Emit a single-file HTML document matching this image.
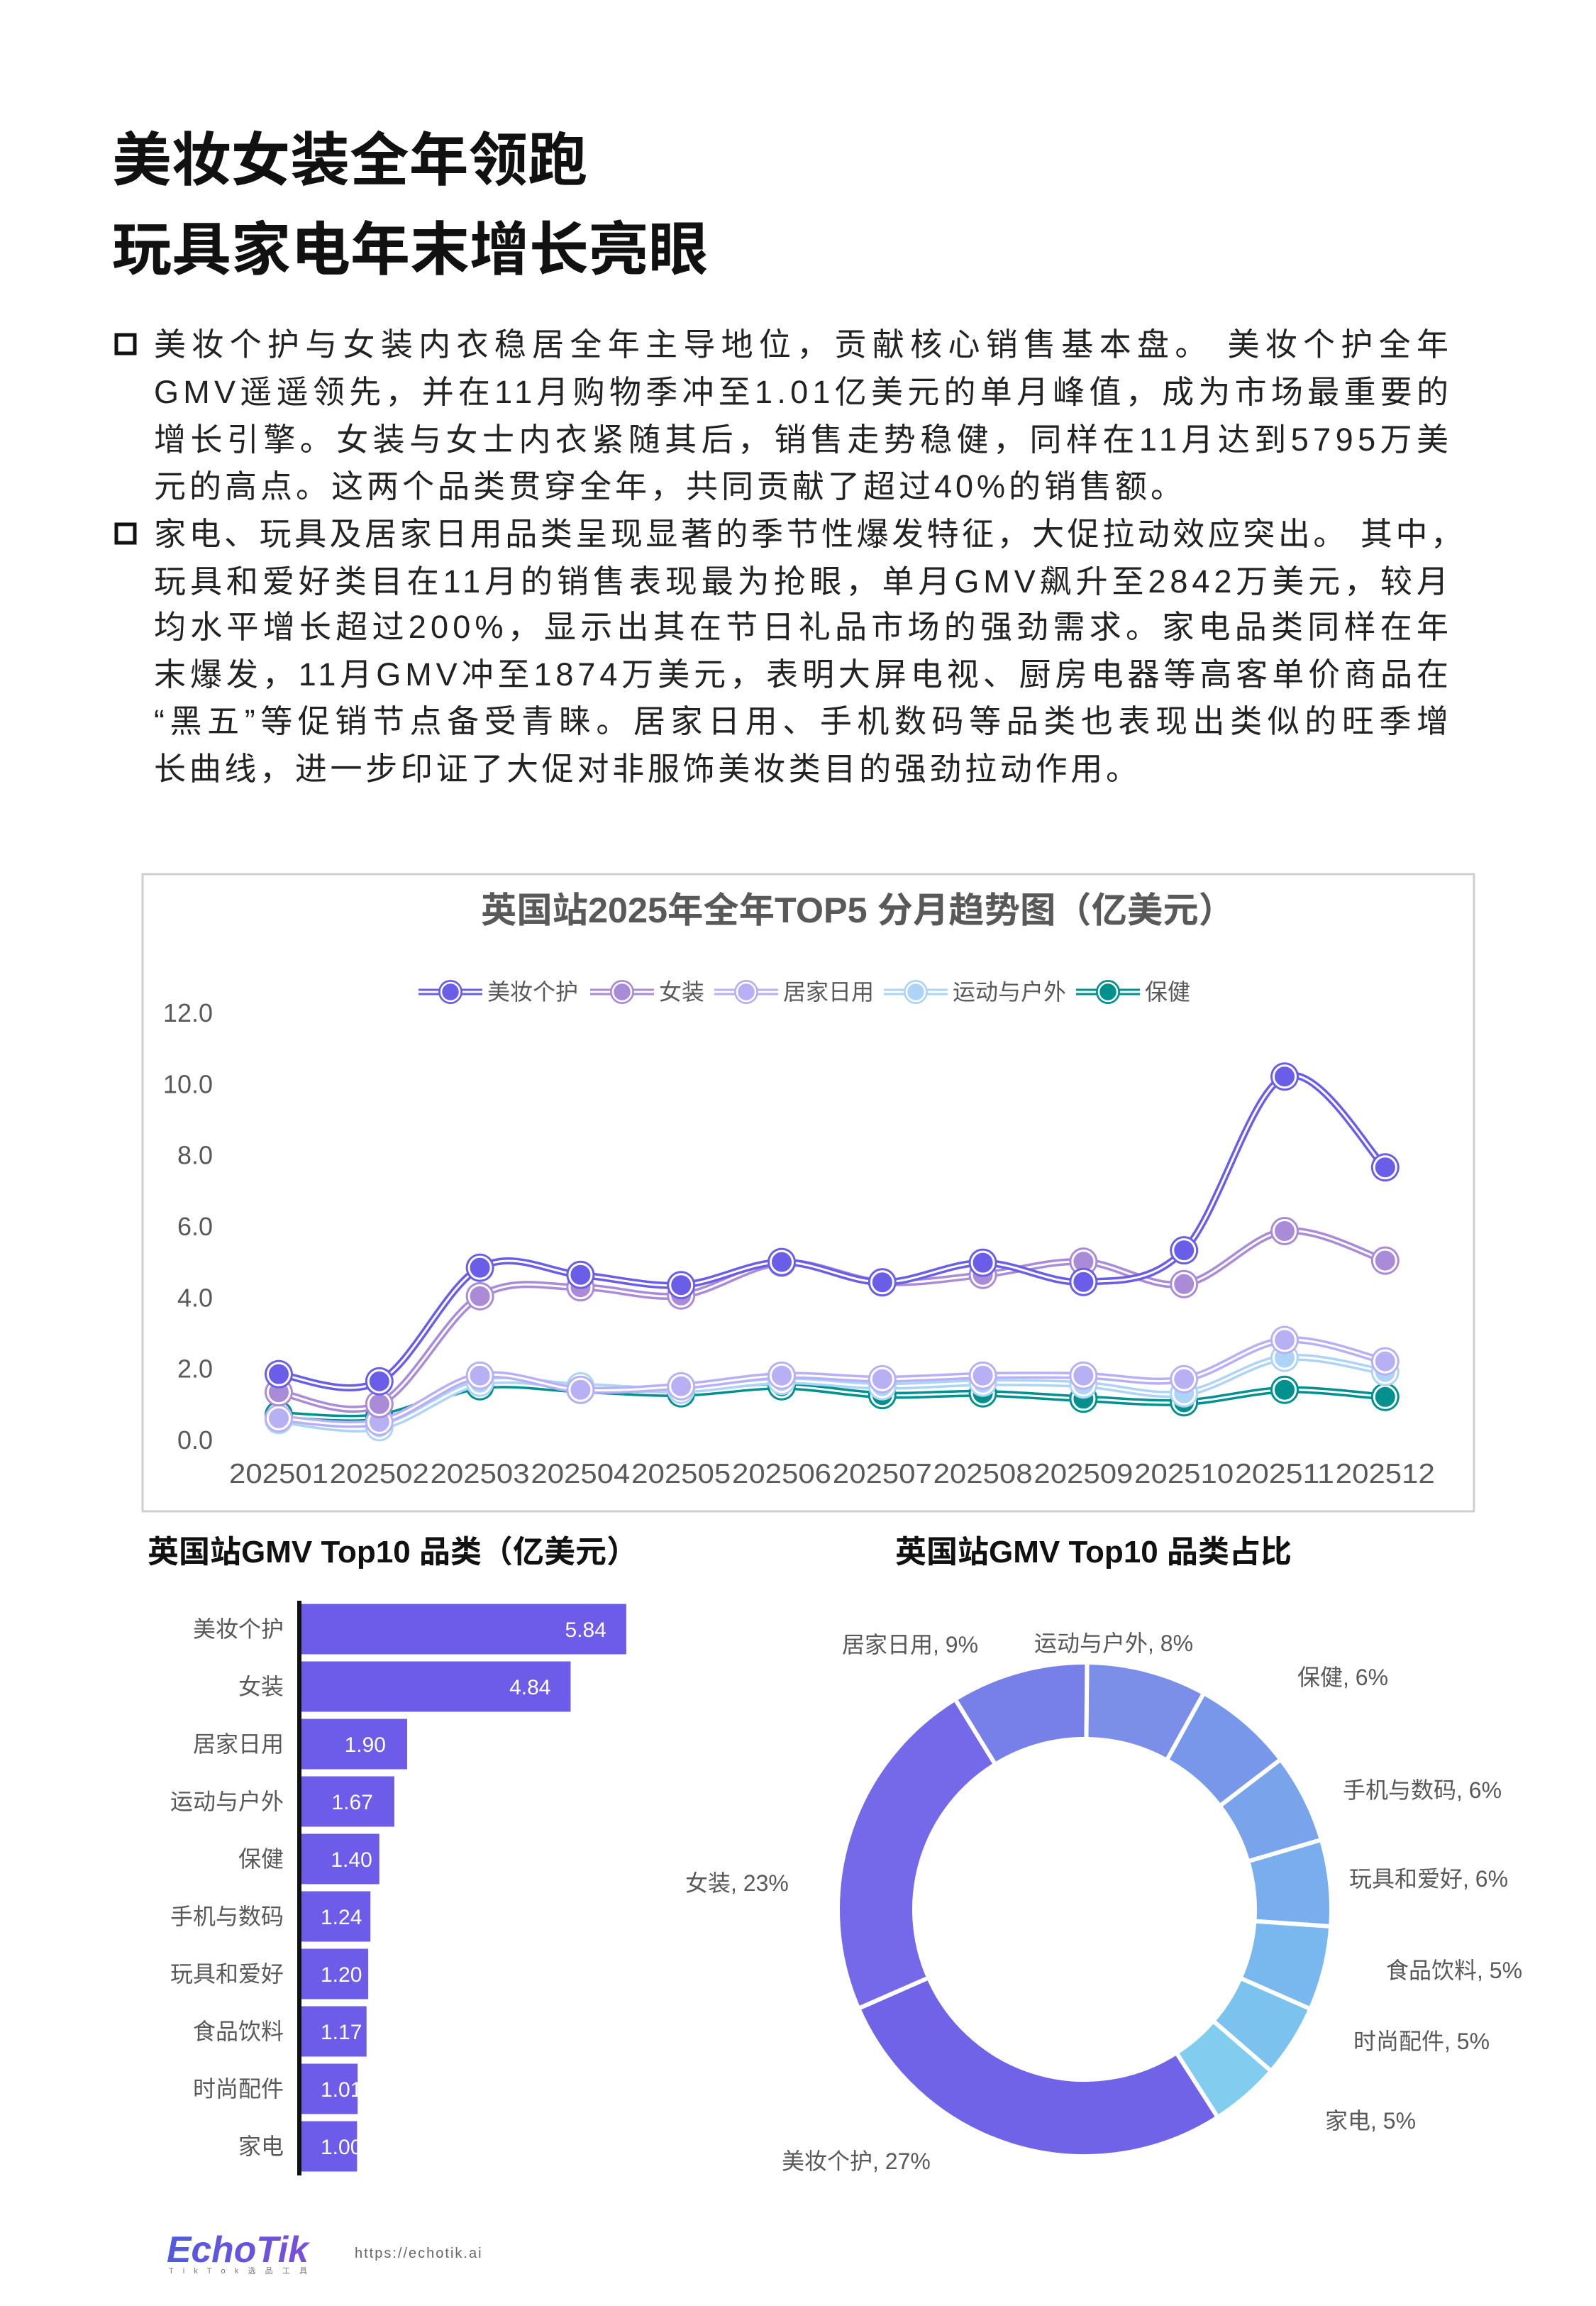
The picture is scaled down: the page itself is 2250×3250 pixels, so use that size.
<!DOCTYPE html>
<html><head><meta charset="utf-8">
<style>
html,body{margin:0;padding:0;background:#fff;}
svg{display:block;}
text{font-family:"Liberation Sans","Noto Sans CJK SC",sans-serif;}
</style></head>
<body>
<svg id="s" width="2250" height="3250" viewBox="0 0 2250 3250" xmlns="http://www.w3.org/2000/svg">
<rect width="2250" height="3250" fill="#fff"/>
<g font-weight="bold" fill="#111" font-size="82">
<text x="158" y="254" textLength="670" lengthAdjust="spacingAndGlyphs">美妆女装全年领跑</text>
<text x="158" y="380" textLength="840" lengthAdjust="spacingAndGlyphs">玩具家电年末增长亮眼</text>
</g>
<g fill="none" stroke="#111" stroke-width="5">
<rect x="164" y="472" width="26" height="26"/>
<rect x="164" y="739" width="26" height="26"/>
</g>
<g font-size="45" fill="#222">
<text x="217" y="501" textLength="1825" lengthAdjust="spacing">美妆个护与女装内衣稳居全年主导地位，贡献核心销售基本盘。 美妆个护全年</text>
<text x="217" y="568" textLength="1825" lengthAdjust="spacing">GMV遥遥领先，并在11月购物季冲至1.01亿美元的单月峰值，成为市场最重要的</text>
<text x="217" y="635" textLength="1825" lengthAdjust="spacing">增长引擎。女装与女士内衣紧随其后，销售走势稳健，同样在11月达到5795万美</text>
<text x="217" y="701" textLength="1450" lengthAdjust="spacing">元的高点。这两个品类贯穿全年，共同贡献了超过40%的销售额。</text>
<text x="217" y="768" textLength="1845" lengthAdjust="spacing">家电、玩具及居家日用品类呈现显著的季节性爆发特征，大促拉动效应突出。 其中，</text>
<text x="217" y="835" textLength="1825" lengthAdjust="spacing">玩具和爱好类目在11月的销售表现最为抢眼，单月GMV飙升至2842万美元，较月</text>
<text x="217" y="899" textLength="1825" lengthAdjust="spacing">均水平增长超过200%，显示出其在节日礼品市场的强劲需求。家电品类同样在年</text>
<text x="217" y="966" textLength="1825" lengthAdjust="spacing">末爆发，11月GMV冲至1874万美元，表明大屏电视、厨房电器等高客单价商品在</text>
<text x="217" y="1032" textLength="1825" lengthAdjust="spacing">“黑五”等促销节点备受青睐。居家日用、手机数码等品类也表现出类似的旺季增</text>
<text x="217" y="1099" textLength="1387" lengthAdjust="spacing">长曲线，进一步印证了大促对非服饰美妆类目的强劲拉动作用。</text>
</g>
<rect x="201" y="1232" width="1877" height="898" fill="#fff" stroke="#cfcfcf" stroke-width="3"/>
<text x="678" y="1300" font-size="50" font-weight="bold" fill="#595959" textLength="1062" lengthAdjust="spacingAndGlyphs">英国站2025年全年TOP5 分月趋势图（亿美元）</text>
<g id="yl" font-size="36" fill="#595959" text-anchor="end"></g>
<g id="xl" font-size="39" fill="#595959"></g>
<g id="lines"></g>
<g id="leg" font-size="32" fill="#595959"></g>

<text x="208" y="2202" font-size="44" font-weight="bold" fill="#111">英国站GMV Top10 品类（亿美元）</text>
<text x="1262" y="2202" font-size="44" font-weight="bold" fill="#111">英国站GMV Top10 品类占比</text>
<g id="bars"></g>
<line x1="422" y1="2256" x2="422" y2="3066" stroke="#111" stroke-width="6"/>
<g id="donut"></g>
<g font-size="32" fill="#595959">
<text x="1187" y="2329">居家日用, 9%</text>
<text x="1458" y="2327">运动与户外, 8%</text>
<text x="1829" y="2375">保健, 6%</text>
<text x="1893" y="2534">手机与数码, 6%</text>
<text x="1902" y="2659">玩具和爱好, 6%</text>
<text x="1954" y="2788">食品饮料, 5%</text>
<text x="1908" y="2888">时尚配件, 5%</text>
<text x="1868" y="3000">家电, 5%</text>
<text x="1102" y="3057">美妆个护, 27%</text>
<text x="966" y="2665">女装, 23%</text>
</g>
<defs><linearGradient id="lg" x1="0" x2="1"><stop offset="0" stop-color="#4f5be0"/><stop offset="1" stop-color="#7a4fd8"/></linearGradient></defs>
<text x="235" y="3188" font-size="52" font-weight="bold" font-style="italic" fill="url(#lg)" textLength="200" lengthAdjust="spacingAndGlyphs">EchoTik</text>
<text x="238" y="3204" font-size="11" fill="#777" textLength="195" lengthAdjust="spacing">T i k T o k 选 品 工 具</text>
<text x="500" y="3182" font-size="20" fill="#666" letter-spacing="2">https://echotik.ai</text>
</svg>
<script>
var NS="http://www.w3.org/2000/svg";
function el(p,t,a,txt){var e=document.createElementNS(NS,t);for(var k in a)e.setAttribute(k,a[k]);if(txt!=null)e.textContent=txt;p.appendChild(e);return e;}
var Y=function(v){return 2029-v*50.17;}, X=function(i){return 393+141.8*i;};
var yl=document.getElementById('yl');
for(var v=0;v<=12;v+=2)el(yl,'text',{x:300,y:Y(v)+13},v.toFixed(1));
var xl=document.getElementById('xl');
for(var i=0;i<12;i++)el(xl,'text',{x:X(i)-70,y:2090,textLength:140,lengthAdjust:'spacingAndGlyphs'},'2025'+(i<9?'0':'')+(i+1));
var series=[
["保健","#00918f",[0.7,0.65,1.5,1.4,1.3,1.5,1.25,1.3,1.15,1.05,1.4,1.2]],
["运动与户外","#aed4f5",[0.55,0.35,1.6,1.5,1.4,1.65,1.5,1.6,1.55,1.3,2.3,1.9]],
["居家日用","#b8b0f5",[0.6,0.5,1.8,1.4,1.5,1.8,1.7,1.8,1.8,1.7,2.8,2.2]],
["女装","#a98bd8",[1.33,1.0,4.03,4.28,4.05,4.97,4.42,4.63,5.0,4.37,5.86,5.03]],
["美妆个护","#6a5de8",[1.84,1.64,4.83,4.63,4.34,4.99,4.42,4.97,4.43,5.32,10.2,7.65]]];
var g=document.getElementById('lines');
series.forEach(function(s){
 var p=s[2].map(function(v,i){return [X(i),Y(v)];});
 var d="M"+p[0][0]+","+p[0][1];
 for(var i=0;i<p.length-1;i++){var p0=p[i-1]||p[i],p1=p[i],p2=p[i+1],p3=p[i+2]||p2,t=0.5/3;
  d+=" C"+(p1[0]+(p2[0]-p0[0])*t)+","+(p1[1]+(p2[1]-p0[1])*t)+" "+(p2[0]-(p3[0]-p1[0])*t)+","+(p2[1]-(p3[1]-p1[1])*t)+" "+p2[0]+","+p2[1];}
 el(g,'path',{d:d,fill:'none',stroke:s[1],'stroke-width':10});
 el(g,'path',{d:d,fill:'none',stroke:'#fff','stroke-width':3});
 p.forEach(function(q){el(g,'circle',{cx:q[0],cy:q[1],r:20,fill:s[1]});el(g,'circle',{cx:q[0],cy:q[1],r:15.5,fill:s[1],stroke:'#fff','stroke-width':3});});
});
var leg=document.getElementById('leg');
var li=[["美妆个护","#6a5de8",635],["女装","#a98bd8",877],["居家日用","#b8b0f5",1052],["运动与户外","#aed4f5",1291],["保健","#00918f",1562]];
li.forEach(function(l){var y=1398;el(leg,'line',{x1:l[2]-45,y1:y,x2:l[2]+45,y2:y,stroke:l[1],'stroke-width':9});el(leg,'line',{x1:l[2]-45,y1:y,x2:l[2]+45,y2:y,stroke:'#fff','stroke-width':3});
 el(leg,'circle',{cx:l[2],cy:y,r:17,fill:l[1]});el(leg,'circle',{cx:l[2],cy:y,r:13,fill:l[1],stroke:'#fff','stroke-width':2.5});
 el(leg,'text',{x:l[2]+52,y:y+11},l[0]);});
var bars=document.getElementById('bars');
var bd=[["美妆个护",5.84],["女装",4.84],["居家日用",1.90],["运动与户外",1.67],["保健",1.40],["手机与数码",1.24],["玩具和爱好",1.20],["食品饮料",1.17],["时尚配件",1.01],["家电",1.0]];
var clip=el(document.getElementById('s'),'defs',{});
bd.forEach(function(b,i){var cy=2296+81*i,w=b[1]*78.4;
 el(clip,'clipPath',{id:'c'+i}).appendChild((function(){var r=document.createElementNS(NS,'rect');r.setAttribute('x',425);r.setAttribute('y',cy-36);r.setAttribute('width',w);r.setAttribute('height',72);return r;})());
 el(bars,'rect',{x:425,y:cy-35.5,width:w,height:71,fill:'#6c5ce7'});
 el(bars,'text',{x:400,y:cy+11,'font-size':32,fill:'#595959','text-anchor':'end'},b[0]);
 var tx=b[1]>3?w+425-28:w+425-(b[1]>1.6?30:(b[1]>1.3?10:0));
 el(bars,'text',{x:b[1]>1.3?tx:452,y:cy+11,'font-size':30,fill:'#fff','text-anchor':b[1]>1.3?'end':'start','clip-path':'url(#c'+i+')'},b[1].toFixed(2));
});
var dn=document.getElementById('donut');
var cx=1529,cy=2691,R=348,r=240;
var seg=[[1.67,"#7b8fe8"],[1.40,"#7797ea"],[1.24,"#79a4ec"],[1.20,"#78aeed"],[1.17,"#79b8ef"],[1.01,"#7bc2ef"],[0.97,"#80cdf0"],[5.84,"#6f63e8"],[4.84,"#7469e8"],[1.90,"#7780e8"]];
var tot=seg.reduce(function(a,b){return a+b[0];},0),a0=0.01;
seg.forEach(function(s){var a1=a0+s[0]/tot*2*Math.PI;
 function pt(rad,a){return [cx+rad*Math.sin(a),cy-rad*Math.cos(a)];}
 var P1=pt(R,a0),P2=pt(R,a1),P3=pt(r,a1),P4=pt(r,a0),lg=(a1-a0)>Math.PI?1:0;
 el(dn,'path',{d:"M"+P1+" A"+R+","+R+" 0 "+lg+" 1 "+P2+" L"+P3+" A"+r+","+r+" 0 "+lg+" 0 "+P4+" Z",fill:s[1],stroke:'#fff','stroke-width':6});
 a0=a1;});
</script>
</body></html>
